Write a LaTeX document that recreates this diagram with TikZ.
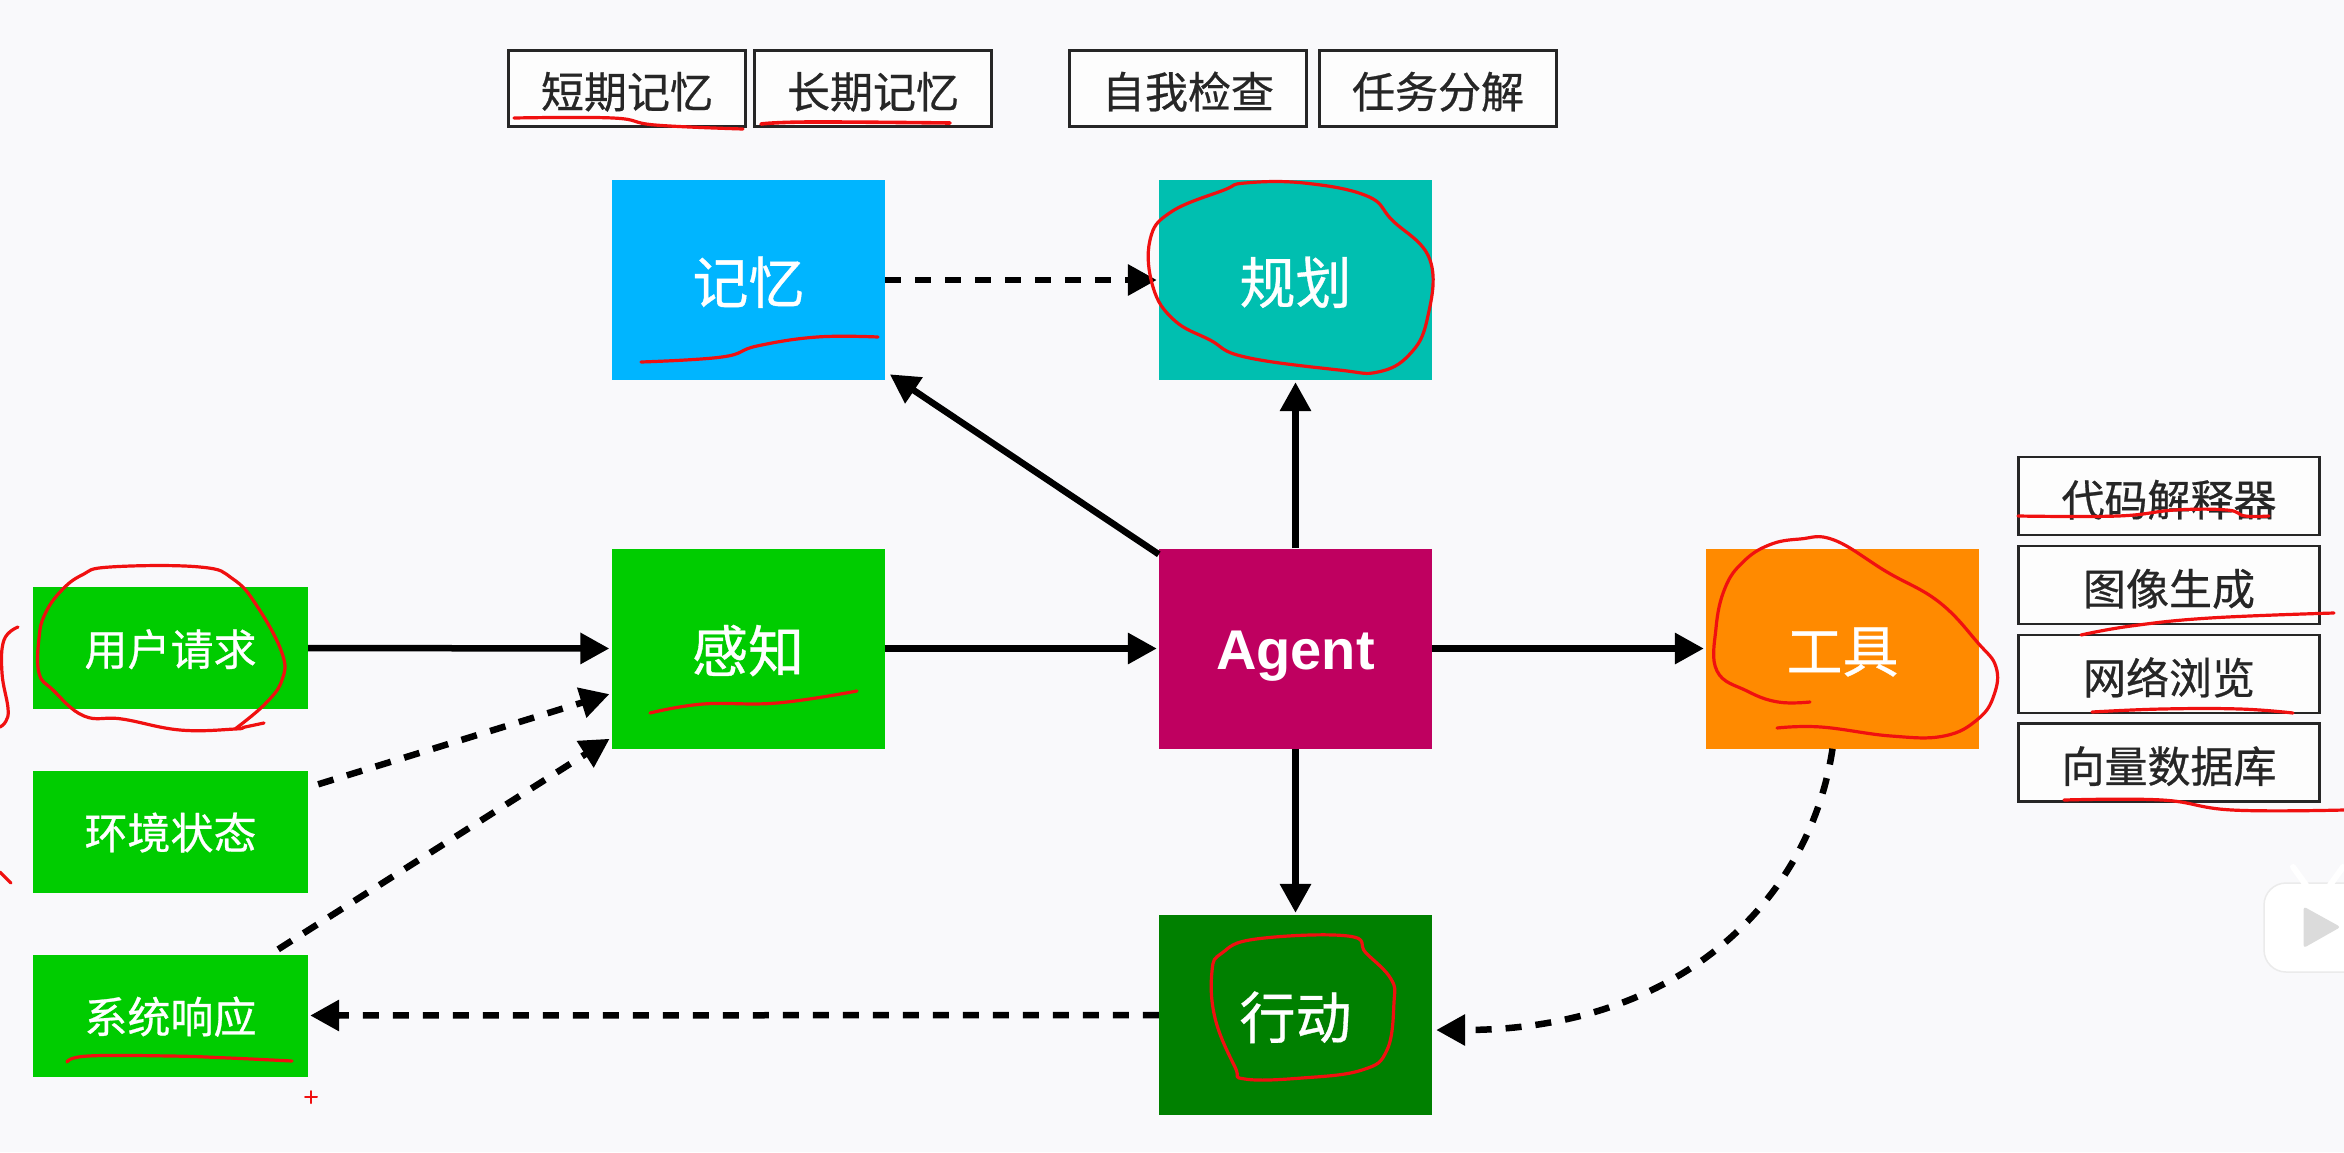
\documentclass[tikz,border=0pt]{standalone}
\usepackage{fontspec}
\setmainfont{Noto Sans CJK SC}[FakeBold=0.6]
\newfontfamily\latinbold{Liberation Sans}[BoldFont={* Bold}]
\usetikzlibrary{arrows.meta}
\definecolor{paper}{HTML}{F9F9FB}
\definecolor{leafgreen}{HTML}{00CC00}
\definecolor{memblue}{HTML}{00B5FF}
\definecolor{plannerteal}{HTML}{00BFB0}
\definecolor{agentred}{HTML}{BF0060}
\definecolor{toolorange}{HTML}{FF8A00}
\definecolor{actgreen}{HTML}{008000}
\definecolor{inkred}{HTML}{F01010}
\tikzset{
  x=1pt,y=-1pt,
  bigbox/.style={inner sep=0pt,minimum width=273pt,minimum height=200pt,text=white,text height=51pt,text depth=4pt,font=\fontsize{56}{60}\selectfont},
  sidebox/.style={fill=leafgreen,inner sep=0pt,minimum width=275pt,minimum height=122pt,text=white,text height=38pt,text depth=3pt,font=\fontsize{43}{48}\selectfont},
  tagbox/.style={draw=black!85,line width=2.8pt,fill=white!60!paper,inner sep=0pt,minimum width=237pt,minimum height=76pt,text=black!85,text height=42pt,text depth=3pt,font=\fontsize{43}{48}\selectfont},
  toolbox/.style={tagbox,minimum width=301pt,minimum height=78pt,text height=43pt},
  flow/.style={line width=6.5pt,black,-{Triangle[length=29pt,width=30pt]},shorten >=2pt},
  dflow/.style={flow,dash pattern=on 16pt off 14pt},
  ink/.style={inkred,line width=3.2pt,line cap=round,line join=round},
}
\begin{document}
\begin{tikzpicture}
\useasboundingbox (0,0) rectangle (2344,1152);
\fill[paper] (0,0) rectangle (2344,1152);

% boxes
\node[bigbox,fill=memblue] (mem) at (748.5,280) {记忆};
\node[bigbox,fill=plannerteal] (plan) at (1295.5,280) {规划};
\node[bigbox,fill=leafgreen] (perc) at (748,648.5) {感知};
\node[bigbox,fill=agentred,font=\latinbold\bfseries\fontsize{56}{60}\selectfont,text height=54pt,text depth=12pt] (agent) at (1295.5,648.5) {Agent};
\node[bigbox,fill=toolorange] (tool) at (1842.5,648.5) {工具};
\node[bigbox,fill=actgreen] (act) at (1295.5,1015) {行动};
\node[sidebox] (user) at (170.5,648) {用户请求};
\node[sidebox] (env) at (170.5,831.5) {环境状态};
\node[sidebox] (sys) at (170.5,1015.5) {系统响应};
\node[tagbox] (short) at (627,88.5) {短期记忆};
\node[tagbox] (long) at (873,88.5) {长期记忆};
\node[tagbox] (check) at (1188,88.5) {自我检查};
\node[tagbox] (split) at (1438,88.5) {任务分解};
\node[toolbox] (code) at (2169,496) {代码解释器};
\node[toolbox] (image) at (2169,585) {图像生成};
\node[toolbox] (web) at (2169,674) {网络浏览};
\node[toolbox] (vec) at (2169,762.5) {向量数据库};

% connectors
\draw[flow] (user.east) -- (perc.west);
\draw[flow] (perc.east) -- (agent.west);
\draw[flow] (agent.east) -- (tool.west);
\draw[flow] (agent.south) -- (act.north);
\draw[flow] (agent.north) -- (plan.south);
\draw[flow] ([yshift=-6pt]agent.north west) -- ([xshift=3pt,yshift=7pt]mem.south east);
\draw[dflow] (mem.east) -- (plan.west);
\draw[dflow] ([xshift=10pt,yshift=-14pt]env.north east) -- ([yshift=-45pt]perc.west);
\draw[dflow] ([xshift=-30pt,yshift=5pt]sys.north east) -- ([yshift=11pt]perc.south west);
\draw[dflow] (act.west) -- (sys.east);
\draw[dflow] ([xshift=-10pt]tool.south) .. controls (1810,900) and (1680,1030) .. ([xshift=2pt,yshift=-15pt]act.south east |- act.east);

% video logo
\fill[white,draw=black!8,line width=1.5pt,rounded corners=22pt] (2264,883) rectangle (2400,972);
\draw[white,line width=6pt,line cap=round] (2293,867) -- (2306,885);
\draw[white,line width=6pt,line cap=round] (2343,867) -- (2330,885);
\fill[black!14,rounded corners=3pt] (2303.5,906.5) -- (2340.6,927) -- (2303.5,948) -- cycle;

% red pen strokes
\draw[ink] plot[smooth,tension=.7] coordinates {(264,723) (245,727) (235,729) (180,730) (122,719) (84,716) (53,690) (39,673) (39,638) (45,614) (61,591) (82,575) (110,567) (200,567) (233,579) (257,606) (282,653) (282,680) (265,704) (235,729)};
\draw[ink] plot[smooth,tension=.7] coordinates {(18,627) (4,640) (2,673) (8,708) (6,721) (0,727)};
\draw[ink] (0,872) -- (11,883);
\draw[ink] plot[smooth,tension=.7] coordinates {(67,1062) (88,1056) (171,1056) (229,1058) (292,1061)};
\draw[ink,line width=2pt] (305,1097) -- (317,1097) (311,1091) -- (311,1103);
\draw[ink] plot[smooth,tension=.7] coordinates {(514,118) (613,118) (655,125) (743,129)};
\draw[ink,line width=3.6pt] plot[smooth,tension=.7] coordinates {(761,124) (810,122) (950,123)};
\draw[ink] plot[smooth,tension=.7] coordinates {(641,362) (722,357) (757,346) (817,337) (878,337)};
\draw[ink] plot[smooth cycle,tension=.7] coordinates {(1245,183) (1304,183) (1367,196) (1392,220) (1430,260) (1427,320) (1409,355) (1378,372) (1339,370) (1245,357) (1210,340) (1174,320) (1153,287) (1150,240) (1171,212) (1224,190)};
\draw[ink] plot[smooth,tension=.7] coordinates {(650,713) (703,704) (777,703) (857,691)};
\draw[ink] plot[smooth,tension=.7] coordinates {(1810,702) (1778,702) (1747,691) (1717,671) (1716,628) (1725,588) (1743,562) (1769,545) (1800,539) (1834,540) (1887,572) (1939,602) (1978,643) (1996,667) (1994,695) (1978,719) (1944,736) (1891,736) (1821,727) (1777,728)};
\draw[ink] plot[smooth,tension=.7] coordinates {(2018,516) (2118,516) (2175,510) (2227,510) (2245,516) (2269,516)};
\draw[ink] plot[smooth,tension=.7] coordinates {(2081,635) (2131,626) (2210,618) (2334,613)};
\draw[ink] plot[smooth,tension=.7] coordinates {(2092,712) (2162,709) (2240,709) (2293,713)};
\draw[ink] plot[smooth,tension=.7] coordinates {(2064,800) (2162,800) (2232,810) (2344,810)};
\draw[ink] plot[smooth cycle,tension=.7] coordinates {(1256,939) (1348,936) (1366,953) (1391,979) (1394,1002) (1387,1050) (1362,1070) (1302,1078) (1245,1079) (1235,1067) (1215,1018) (1212,971) (1222,953)};
\end{tikzpicture}
\end{document}
